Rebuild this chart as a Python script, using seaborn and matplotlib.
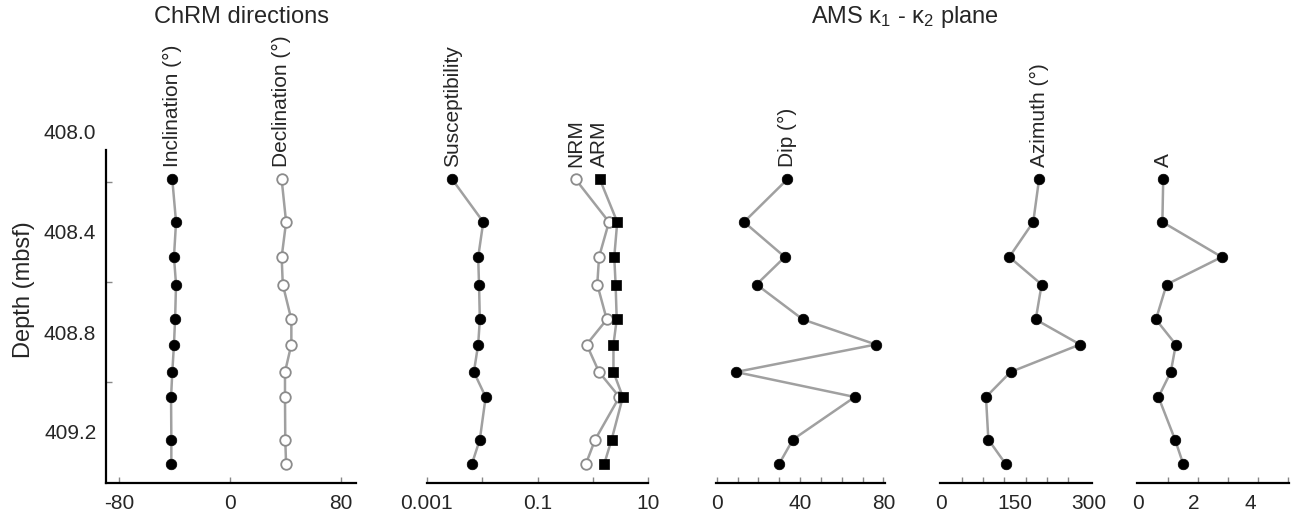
import numpy as np
import pandas as pd
import seaborn as sns
import matplotlib.pyplot as plt
from matplotlib.ticker import FixedLocator, NullLocator

# depth of each sample (mbsf)
depth = [408.19, 408.36, 408.50, 408.61, 408.75, 408.85, 408.96, 409.06, 409.23, 409.33]

# ChRM directions
inclination = [-41.7, -39.0, -40.5, -39.0, -39.7, -40.5, -41.7, -42.6, -42.4, -42.4]
declination = [37.3, 40.5, 37.3, 38.1, 44.3, 44.3, 39.7, 39.7, 39.9, 40.5]

# magnetic parameters (log scale)
susceptibility = [0.0029, 0.0105, 0.0085, 0.0088, 0.0091, 0.0085, 0.0071, 0.0116, 0.0091, 0.0065]
nrm = [0.49, 1.95, 1.29, 1.20, 1.78, 0.77, 1.29, 3.0, 1.10, 0.74]
arm = [1.34, 2.75, 2.43, 2.57, 2.69, 2.35, 2.35, 3.47, 2.18, 1.59]

# AMS k1 - k2 plane
dip = [33.8, 13.1, 32.7, 19.1, 41.4, 76.4, 9.2, 66.3, 36.6, 29.8]
azimuth = [198.7, 187.0, 138.5, 204.0, 192.0, 281.8, 141.0, 91.2, 96.0, 131.8]
anis_a = [0.90, 0.87, 2.99, 1.02, 0.64, 1.35, 1.17, 0.73, 1.32, 1.62]

df = pd.DataFrame({"depth": depth, "inc": inclination, "dec": declination,
                   "sus": susceptibility, "nrm": nrm, "arm": arm,
                   "dip": dip, "azi": azimuth, "A": anis_a})

sns.set_theme(style="white")
plt.rcParams['font.family'] = ['Liberation Sans', 'DejaVu Sans']
plt.rcParams['mathtext.fontset'] = 'custom'
plt.rcParams['mathtext.rm'] = 'Liberation Sans'
plt.rcParams['mathtext.it'] = 'Liberation Sans'

W, H = 1298, 516
top_px, bot_px = 132, 483
fig = plt.figure(figsize=(W / 100, H / 100), dpi=100)


def add_panel(x0, x1):
    return fig.add_axes([x0 / W, 1 - bot_px / H, (x1 - x0) / W, (bot_px - top_px) / H])


line_c = '#a0a0a0'


def profile(ax, col, marker='o', open_marker=False):
    sns.lineplot(data=df, x=col, y="depth", orient="y", sort=False, estimator=None,
                 color=line_c, lw=1.8, ax=ax, zorder=2)
    if open_marker:
        sns.scatterplot(data=df, x=col, y="depth", marker=marker, s=58, color='white',
                        edgecolor='#8c8c8c', linewidth=1.3, ax=ax, zorder=3)
    else:
        sns.scatterplot(data=df, x=col, y="depth", marker=marker, s=58, color='black',
                        edgecolor='black', linewidth=0.5, ax=ax, zorder=4)


def header(ax, col, text):
    ax.text(df[col].iloc[0], df["depth"].iloc[0] - 0.05, text, rotation=90,
            ha='center', va='bottom', fontsize=15)


def style(ax, left=False):
    ax.set_ylim(409.404, 408.0)
    ax.set_xlabel('')
    ax.set_ylabel('')
    for s in ['top', 'right']:
        ax.spines[s].set_visible(False)
    ax.spines['left'].set_visible(left)
    ax.spines['bottom'].set_color('black')
    ax.spines['bottom'].set_linewidth(1.6)
    ax.tick_params(axis='x', which='both', direction='in', color='#888888', width=1,
                   labelsize=15, pad=8, bottom=True)
    ax.tick_params(axis='x', which='major', length=4)
    ax.tick_params(axis='x', which='minor', length=4)
    if not left:
        ax.set_yticks([])
    ax.patch.set_alpha(0)


# panel 1: ChRM directions
ax1 = add_panel(106, 356)
profile(ax1, "inc")
profile(ax1, "dec", open_marker=True)
style(ax1, left=True)
ax1.set_xlim(-89.6, 91)
ax1.set_xticks([-80, 0, 80])
ax1.set_xticklabels(['-80', '0', '80'])
ax1.spines['left'].set_color('black')
ax1.spines['left'].set_linewidth(1.6)
ax1.spines['left'].set_bounds(408.072, 409.404)
ax1.yaxis.set_major_locator(FixedLocator([408.0, 408.4, 408.8, 409.2]))
ax1.set_yticklabels(['408.0', '408.4', '408.8', '409.2'])
ax1.yaxis.set_minor_locator(FixedLocator(np.arange(408.2, 409.3, 0.2)))
ax1.tick_params(axis='y', which='major', length=0, labelsize=15, pad=7, left=True)
ax1.tick_params(axis='y', which='minor', direction='in', length=4, color='#888888',
                width=1, left=True)
header(ax1, "inc", "Inclination (°)")
header(ax1, "dec", "Declination (°)")

# panel 2: susceptibility, NRM, ARM
ax2 = add_panel(426.7, 648.3)
ax2.set_xscale('log')
profile(ax2, "sus")
profile(ax2, "nrm", open_marker=True)
profile(ax2, "arm", marker='s')
style(ax2)
ax2.set_xlim(0.001, 10)
ax2.xaxis.set_major_locator(FixedLocator([0.001, 0.01, 0.1, 1, 10]))
ax2.xaxis.set_minor_locator(NullLocator())
ax2.set_xticklabels(['0.001', '', '0.1', '', '10'])
header(ax2, "sus", "Susceptibility")
header(ax2, "nrm", "NRM")
header(ax2, "arm", "ARM")

# panel 3: dip
ax3 = add_panel(715.7, 885)
profile(ax3, "dip")
style(ax3)
ax3.set_xlim(-0.5, 80.8)
ax3.set_xticks([0, 40, 80])
ax3.set_xticklabels(['0', '40', '80'])
ax3.xaxis.set_minor_locator(FixedLocator(np.arange(0, 81, 10)))
header(ax3, "dip", "Dip (°)")

# panel 4: azimuth
ax4 = add_panel(940, 1091.7)
profile(ax4, "azi")
style(ax4)
ax4.set_xlim(-2, 305.5)
ax4.set_xticks([0, 150, 300])
ax4.set_xticklabels(['0', '150', '300'])
ax4.xaxis.set_minor_locator(FixedLocator(np.linspace(0, 300, 8)))
ax4.tick_params(axis='x', which='major', length=0)
header(ax4, "azi", "Azimuth (°)")

# panel 5: A
ax5 = add_panel(1137.3, 1289.3)
profile(ax5, "A")
style(ax5)
ax5.set_xlim(-0.025, 5.4)
ax5.set_xticks([0, 2, 4])
ax5.set_xticklabels(['0', '2', '4'])
ax5.xaxis.set_minor_locator(FixedLocator(np.linspace(0, 5.37, 6)))
ax5.tick_params(axis='x', which='major', length=0)
header(ax5, "A", "A")

fig.text(24 / W, 1 - 290 / H, 'Depth (mbsf)', rotation=90, ha='center', va='center', fontsize=17)
fig.text(242 / W, 1 - 17 / H, 'ChRM directions', ha='center', va='center', fontsize=17)
fig.text(905 / W, 1 - 17 / H, r'AMS κ$_1$ - κ$_2$ plane', ha='center', va='center', fontsize=17)

fig.savefig('out.png', dpi=100)
